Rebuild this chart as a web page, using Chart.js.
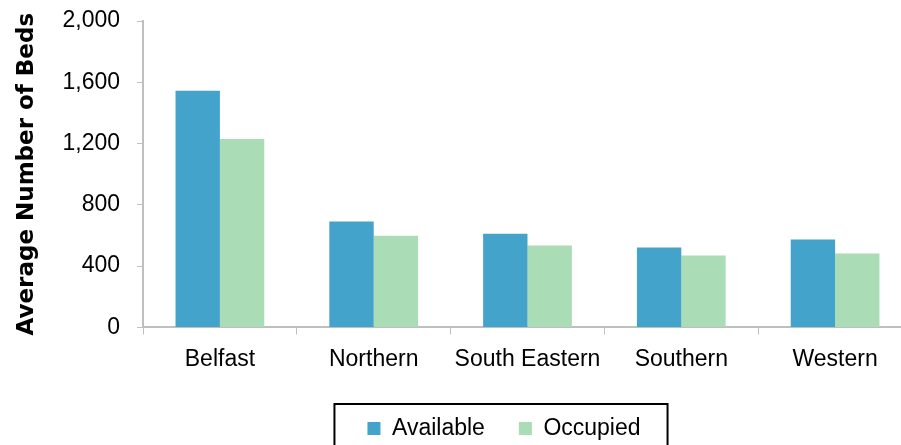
<!DOCTYPE html>
<html>
<head>
<meta charset="utf-8">
<script src="https://cdn.jsdelivr.net/npm/chart.js@4"></script>
<style>
    body { margin: 0; overflow: hidden; background: #fff; }
    #wrap { width: 912px; height: 445px; }
</style>
</head>
<body>
<div id="wrap"><canvas id="bedsChart" width="912" height="445"></canvas></div>
<script>
// Chart data
const regions = ['Belfast', 'Northern', 'South Eastern', 'Southern', 'Western'];
const available = [1544, 691, 612, 521, 573];
const occupied = [1229, 599, 534, 469, 482];
const yTicks = [0, 400, 800, 1200, 1600, 2000];

const axisGrey = '#BFBFBF';
const baseFont = "'Liberation Sans', Arial, sans-serif";

// Nudges the legend to where the original sits and draws its black frame
const legendFrame = {
    id: 'legendFrame',
    afterLayout(chart) {
        const lg = chart.legend;
        lg.left += 48;
        lg.right += 48;
        lg.top += 5;
        lg.bottom += 5;
        lg.adjustHitBoxes();
    },
    afterDraw(chart) {
        const boxes = chart.legend.legendHitBoxes;
        if (!boxes || !boxes.length) return;
        const minX = Math.min(...boxes.map(b => b.left));
        const maxX = Math.max(...boxes.map(b => b.left + b.width));
        const ctx = chart.ctx;
        ctx.save();
        ctx.strokeStyle = '#000';
        ctx.lineWidth = 2;
        ctx.strokeRect(minX - 33, 404, (maxX - minX) + 33 + 27, 60);
        ctx.restore();
    }
};

function initChart() {
    const ctx = document.getElementById('bedsChart').getContext('2d');
    new Chart(ctx, {
        type: 'bar',
        data: {
            labels: regions,
            datasets: [
                { label: 'Available', data: available, backgroundColor: '#43A3CB' },
                { label: 'Occupied', data: occupied, backgroundColor: '#AADDB5' }
            ]
        },
        options: {
            responsive: false,
            animation: false,
            categoryPercentage: 0.577,
            barPercentage: 1,
            layout: { padding: 0 },
            plugins: {
                tooltip: { enabled: false },
                legend: {
                    position: 'bottom',
                    labels: {
                        color: '#000',
                        font: { family: baseFont, size: 23 },
                        boxWidth: 13,
                        boxHeight: 13,
                        padding: 34
                    }
                }
            },
            scales: {
                x: {
                    afterFit: scale => { scale.height -= 6; },
                    grid: {
                        drawOnChartArea: false,
                        color: axisGrey,
                        tickLength: 7,
                        offset: true
                    },
                    border: { color: axisGrey, width: 2 },
                    ticks: {
                        color: '#000',
                        font: { family: baseFont, size: 23 },
                        maxRotation: 0,
                        padding: 11
                    }
                },
                y: {
                    min: 0,
                    max: 2000,
                    afterBuildTicks: scale => {
                        scale.ticks = yTicks.map(v => ({ value: v }));
                    },
                    afterFit: scale => {
                        scale.width = 143;
                        scale.paddingTop = 21;
                        scale.paddingBottom = 0;
                    },
                    grid: {
                        drawOnChartArea: false,
                        color: axisGrey,
                        tickLength: 6
                    },
                    border: { color: axisGrey, width: 2 },
                    ticks: {
                        color: '#000',
                        font: { family: baseFont, size: 23 },
                        padding: 17,
                        callback: v => v.toLocaleString('en-US')
                    },
                    title: {
                        display: true,
                        text: 'Average Number of Beds',
                        color: '#000',
                        font: { family: "'DejaVu Sans', sans-serif", size: 23, weight: 'bold' },
                        padding: { top: 13, bottom: 0 }
                    }
                }
            }
        },
        plugins: [legendFrame]
    });
}

document.addEventListener('DOMContentLoaded', initChart);
</script>
</body>
</html>
